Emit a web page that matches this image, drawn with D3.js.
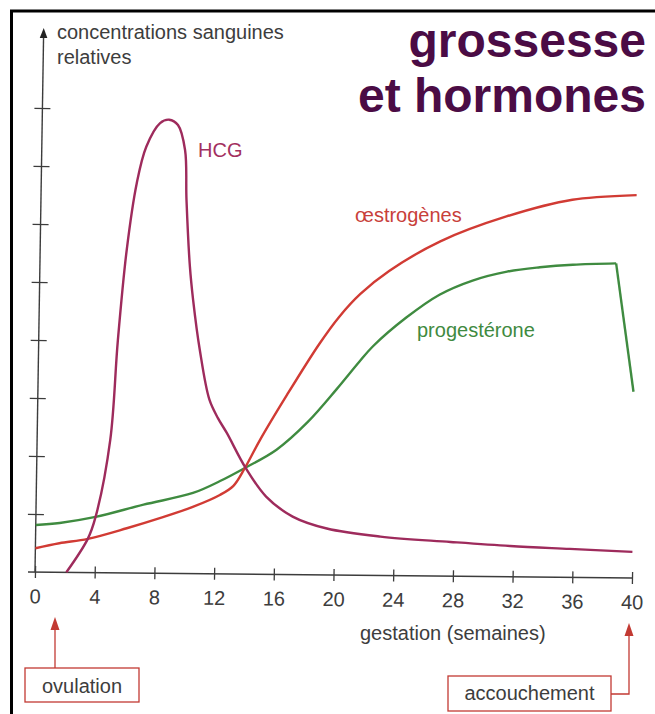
<!DOCTYPE html>
<html>
<head>
<meta charset="utf-8">
<script src="https://cdn.jsdelivr.net/npm/d3@7"></script>
<style>
  body { margin: 0; background: #fff; }
  svg { display: block; }
  text { font-family: "Liberation Sans", Arial, Helvetica, sans-serif; }
</style>
</head>
<body>
<div id="chart"></div>
<script>
// gestation weeks on the x axis
var weekTicks = [0, 4, 8, 12, 16, 20, 24, 28, 32, 36, 40];
var levelTicks = [1, 2, 3, 4, 5, 6, 7, 8];

// HCG (relative units)
var hcgWeeks  = [2.1, 3.5, 4.0, 4.9, 5.3, 5.8, 6.4, 7.0, 7.9, 8.5, 9.1, 9.6, 9.75, 10.05, 10.3, 10.8, 11.5, 12.1, 12.7, 14.0, 15.4, 17.2, 19.5, 23.1, 27.8, 31.8, 35.8, 40];
var hcgValues = [0, 0.58, 0.96, 2.29, 4.0, 5.57, 6.72, 7.35, 7.76, 7.82, 7.73, 7.3, 6.44, 5.29, 4.72, 3.86, 3.0, 2.68, 2.43, 1.83, 1.34, 1.0, 0.8, 0.67, 0.59, 0.53, 0.49, 0.45];

// oestrogens
var estWeeks  = [0, 1.6, 3.5, 6.1, 8.3, 10.5, 12.3, 13.2, 13.95, 14.9, 16.7, 18.8, 20.1, 21.5, 23.4, 26.8, 31.2, 35.6, 39.9];
var estValues = [0.41, 0.5, 0.58, 0.77, 0.95, 1.15, 1.36, 1.52, 1.83, 2.3, 3.1, 3.98, 4.45, 4.85, 5.25, 5.77, 6.21, 6.51, 6.6];

// progesterone (last point = drop at delivery)
var progWeeks  = [0, 1.6, 4.0, 7.2, 10.5, 12.3, 13.95, 16.05, 18.1, 20.0, 21.5, 22.4, 24.6, 26.8, 29.0, 31.3, 33.5, 35.7, 38.6, 39.9];
var progValues = [0.81, 0.85, 0.96, 1.18, 1.39, 1.6, 1.83, 2.15, 2.63, 3.2, 3.68, 3.95, 4.45, 4.85, 5.1, 5.26, 5.34, 5.39, 5.42, 3.21];

var width = 655, height = 714;
var axisColor = "#3c3c3c", textColor = "#3d3d3d";
var hcgColor = "#9e2b5c", estColor = "#d13b34", progColor = "#3f8b40", noteColor = "#c23a33";

var svg = d3.select("#chart")
    .append("svg")
    .attr("width", width)
    .attr("height", height);

// frame (only top and left edges are inside the picture)
svg.append("rect")
    .attr("x", 11.5).attr("y", 11)
    .attr("width", 720).attr("height", 780)
    .attr("fill", "none")
    .attr("stroke", "#000")
    .attr("stroke-width", 3);

var x = d3.scaleLinear().domain([0, 40]).range([0, 597]);
var y = d3.scaleLinear().domain([0, 1]).range([0, -58]);
var yTop = 9.38;

// the scanned figure is slightly tilted
var plot = svg.append("g")
    .attr("transform", "matrix(1,0.01,-0.016,1,35,572)");

// x axis
var xAxis = plot.append("g")
    .call(d3.axisBottom(x).tickValues(weekTicks).tickSize(6).tickPadding(11))
    .attr("font-size", 20)
    .attr("font-family", "Liberation Sans, Arial, sans-serif");
xAxis.select(".domain").remove();
xAxis.selectAll(".tick line")
    .attr("y1", -6)
    .attr("stroke", axisColor)
    .attr("stroke-width", 1.3);
xAxis.selectAll(".tick text").attr("fill", textColor);

plot.append("line")
    .attr("x1", -7).attr("x2", x(40))
    .attr("y1", 0).attr("y2", 0)
    .attr("stroke", axisColor)
    .attr("stroke-width", 1.4);

// y axis with arrow
var yAxis = plot.append("g")
    .call(d3.axisLeft(y).tickValues(levelTicks).tickSize(8).tickFormat(""));
yAxis.select(".domain").remove();
yAxis.selectAll(".tick line")
    .attr("x1", 8)
    .attr("stroke", axisColor)
    .attr("stroke-width", 1.3);

plot.append("line")
    .attr("x1", 0).attr("x2", 0)
    .attr("y1", 0).attr("y2", y(yTop) + 6)
    .attr("stroke", axisColor)
    .attr("stroke-width", 1.4);
plot.append("path")
    .attr("d", "M0," + y(yTop) + "L-3.8," + (y(yTop) + 10) + "L3.8," + (y(yTop) + 10) + "Z")
    .attr("fill", "#222");

// curves
var line = d3.line()
    .x(function (d) { return x(d[0]); })
    .y(function (d) { return y(d[1]); })
    .curve(d3.curveCatmullRom.alpha(0.5));
var straight = d3.line()
    .x(function (d) { return x(d[0]); })
    .y(function (d) { return y(d[1]); });

var prog = d3.zip(progWeeks, progValues);
var n = prog.length;
plot.append("path")
    .attr("d", line(prog.slice(0, n - 1)))
    .attr("fill", "none").attr("stroke", progColor).attr("stroke-width", 2.4);
plot.append("path")
    .attr("d", straight(prog.slice(n - 2)))
    .attr("fill", "none").attr("stroke", progColor).attr("stroke-width", 2.4);

plot.append("path")
    .attr("d", line(d3.zip(estWeeks, estValues)))
    .attr("fill", "none").attr("stroke", estColor).attr("stroke-width", 2.4);

plot.append("path")
    .attr("d", line(d3.zip(hcgWeeks, hcgValues)))
    .attr("fill", "none").attr("stroke", hcgColor).attr("stroke-width", 2.4);

// labels
function label(txt, px, py, color, size, weight, anchor) {
    return svg.append("text")
        .attr("x", px).attr("y", py)
        .attr("fill", color)
        .attr("font-size", size)
        .attr("font-weight", weight || "normal")
        .attr("text-anchor", anchor || "start")
        .text(txt);
}
label("concentrations sanguines", 57, 39, textColor, 20);
label("relatives", 57, 64, textColor, 20);
label("grossesse", 646, 57, "#4b0c45", 48, "bold", "end");
label("et hormones", 646, 112, "#4b0c45", 48, "bold", "end");
label("HCG", 198, 157, "#a3305f", 20);
label("\u0153strog\u00e8nes", 355, 222, "#c8403a", 20);
label("progest\u00e9rone", 417, 337, "#3f8a40", 20);
label("gestation (semaines)", 360, 640, textColor, 20);

// ovulation note
svg.append("line")
    .attr("x1", 55).attr("x2", 55).attr("y1", 668).attr("y2", 628)
    .attr("stroke", noteColor).attr("stroke-width", 1.3);
svg.append("path")
    .attr("d", "M55,617L50.5,630L59.5,630Z")
    .attr("fill", noteColor);
svg.append("rect")
    .attr("x", 25).attr("y", 668).attr("width", 114).attr("height", 34)
    .attr("fill", "none").attr("stroke", noteColor).attr("stroke-width", 1.3);
label("ovulation", 82, 693, textColor, 20, "normal", "middle");

// delivery note
svg.append("path")
    .attr("d", "M611,694L629,694L629,634")
    .attr("fill", "none").attr("stroke", noteColor).attr("stroke-width", 1.3);
svg.append("path")
    .attr("d", "M629,623L624.5,636L633.5,636Z")
    .attr("fill", noteColor);
svg.append("rect")
    .attr("x", 448).attr("y", 676).attr("width", 163).attr("height", 35)
    .attr("fill", "none").attr("stroke", noteColor).attr("stroke-width", 1.3);
label("accouchement", 529.5, 700, textColor, 20, "normal", "middle");
</script>
</body>
</html>
